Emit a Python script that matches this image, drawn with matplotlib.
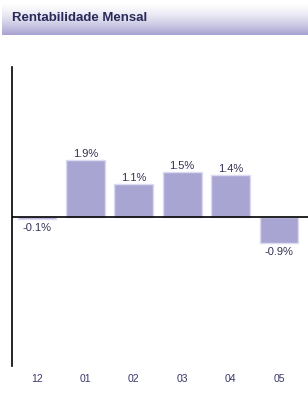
import matplotlib
matplotlib.use("Agg")
import matplotlib.pyplot as plt
import numpy as np

months = ["12", "01", "02", "03", "04", "05"]
values = [-0.1, 1.9, 1.1, 1.5, 1.4, -0.9]
labels = ["-0.1%", "1.9%", "1.1%", "1.5%", "1.4%", "-0.9%"]
title = "Rentabilidade Mensal"

W, H = 308, 406
fig = plt.figure(figsize=(W / 100, H / 100), dpi=100)
fig.patch.set_facecolor("white")

# header gradient band
hax = fig.add_axes([2 / W, 1 - 36 / H, 1 - 2 / W, 33 / H])
grad = np.linspace(0, 1, 100).reshape(-1, 1)
c_top = np.array([1.0, 1.0, 1.0])
c_bot = np.array([0xa6, 0xa2, 0xd0]) / 255
g = grad ** 1.5
img = c_top[None, None, :] * (1 - g[:, :, None]) + c_bot[None, None, :] * g[:, :, None]
hax.imshow(img, aspect="auto", extent=[0, 1, 0, 1])
hax.set_axis_off()
fig.text(12 / W, 1 - 18 / H, title, fontsize=9.5, fontweight="bold",
         color="#2a2a5a", va="center", ha="left", family="Liberation Sans")

ax = fig.add_axes([12 / W, 39 / H, 1 - 12 / W, (367 - 68) / H])
x = np.arange(len(months))
ax.bar(x, values, width=0.8, color="#a9a5d3", edgecolor="#dcdaf0", linewidth=1)
ax.set_xlim(-0.516, 5.6)
ax.set_ylim(-5, 5)
ax.axhline(0, color="black", linewidth=1.2)
for s in ["top", "right", "bottom"]:
    ax.spines[s].set_visible(False)
ax.spines["left"].set_linewidth(1.2)
ax.set_yticks([])
ax.set_xticks(x)
ax.set_xticklabels(months, fontsize=7.5, color="#3a3a6a", family="Liberation Sans")
ax.tick_params(axis="x", length=0, pad=5)

for xi, v, lab in zip(x, values, labels):
    if v >= 0:
        ax.annotate(lab, (xi, v), xytext=(0, 1), textcoords="offset points",
                    ha="center", va="bottom", fontsize=8, color="#333355",
                    family="Liberation Sans")
    else:
        ax.annotate(lab, (xi, v), xytext=(0, -2), textcoords="offset points",
                    ha="center", va="top", fontsize=8, color="#333355",
                    family="Liberation Sans")

fig.savefig("out.png", dpi=100)
